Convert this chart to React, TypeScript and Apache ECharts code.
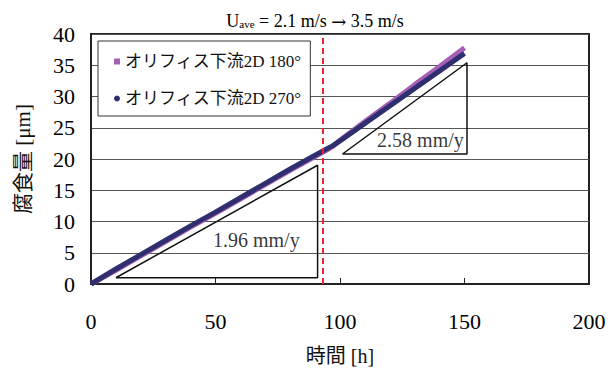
import React, { useEffect, useRef } from "react";
import * as echarts from "echarts";

const hours = [0, 10, 20, 30, 40, 50, 60, 70, 80, 90, 95, 97, 100, 110, 120, 130, 140, 150];
const series180 = [0, 2.2, 4.5, 6.8, 9.1, 11.3, 13.6, 15.9, 18.2, 20.4, 21.5, 22.0, 23.0, 26.0, 28.9, 31.9, 34.8, 37.8];
const series270 = [0, 2.4, 4.7, 7.0, 9.3, 11.5, 13.8, 16.1, 18.4, 20.6, 21.7, 22.1, 22.9, 25.7, 28.5, 31.3, 34.1, 36.9];
const seriesNames = ["オリフィス下流2D 180°", "オリフィス下流2D 270°"];
const triangle1 = [[10, 1], [91, 1], [91, 19], [10, 1]];
const triangle2 = [[101, 20.8], [151, 20.8], [151, 35.4], [101, 20.8]];
const rateLabels = [
  { name: "1.96 mm/y", pos: [66.4, 7.1] },
  { name: "2.58 mm/y", pos: [132.3, 23.0] },
];
const changeHour = 93;

const SERIF = "'Liberation Serif', 'Times New Roman', 'Noto Sans CJK JP', serif";

export default function App() {
  const ref = useRef<HTMLDivElement>(null);
  useEffect(() => {
    if (!ref.current) return;
    const chart = echarts.init(ref.current, null, { renderer: "svg" });
    const toPairs = (ys: number[]) => hours.map((h, i) => [h, ys[i]]);
    chart.setOption({
      animation: false,
      backgroundColor: "#fff",
      textStyle: { fontFamily: SERIF },
      title: {
        text: "{a|U}{b|ave}{a| = 2.1 m/s }{c|→}{a| 3.5 m/s}",
        left: 310,
        textAlign: "center",
        top: 6,
        textStyle: {
          fontWeight: "normal",
          rich: {
            a: { fontFamily: SERIF, fontSize: 18, fontWeight: "normal", color: "#000", verticalAlign: "bottom" },
            b: { fontFamily: SERIF, fontSize: 11, fontWeight: "normal", color: "#000", padding: [8, 0, 0, 0], verticalAlign: "bottom" },
            c: { fontFamily: "'DejaVu Serif', serif", fontSize: 18, fontWeight: "normal", color: "#000", verticalAlign: "bottom" },
          },
        },
      },
      legend: {
        left: 98,
        top: 41,
        orient: "vertical",
        backgroundColor: "#fff",
        borderColor: "#333",
        borderWidth: 1,
        borderRadius: 0,
        padding: [12, 9, 9, 16],
        itemGap: 20,
        itemWidth: 6,
        itemHeight: 6,
        textStyle: { fontFamily: SERIF, fontSize: 17, color: "#111" },
        data: [
          { name: seriesNames[0], icon: "rect" },
          { name: seriesNames[1], icon: "circle" },
        ],
      },
      grid: {
        left: 91,
        right: 26,
        top: 34,
        bottom: 88,
        show: true,
        borderColor: "#222",
        borderWidth: 2,
        backgroundColor: "transparent",
      },
      xAxis: {
        type: "value",
        min: 0,
        max: 200,
        interval: 50,
        name: "時間 [h]",
        nameLocation: "middle",
        nameGap: 62,
        nameTextStyle: { fontFamily: SERIF, fontSize: 20, color: "#111" },
        axisLine: { show: true, lineStyle: { color: "#222", width: 2 } },
        axisTick: { show: true, inside: true, length: 6, lineStyle: { color: "#222" } },
        axisLabel: { fontFamily: SERIF, fontSize: 22, color: "#000", margin: 26 },
        splitLine: { show: false },
      },
      yAxis: {
        type: "value",
        min: 0,
        max: 40,
        interval: 5,
        name: "腐食量 [μm]",
        nameLocation: "middle",
        nameGap: 58,
        nameRotate: 90,
        nameTextStyle: { fontFamily: SERIF, fontSize: 21, color: "#111" },
        axisLine: { show: true, lineStyle: { color: "#222", width: 2 } },
        axisTick: { show: false },
        axisLabel: { fontFamily: SERIF, fontSize: 22, color: "#000", margin: 16 },
        splitLine: { show: true, lineStyle: { color: "#555", width: 1 } },
      },
      series: [
        {
          name: seriesNames[0],
          type: "line",
          data: toPairs(series180),
          showSymbol: false,
          symbol: "rect",
          itemStyle: { color: "#A55FB5" },
          lineStyle: { color: "#A55FB5", width: 5 },
          z: 3,
        },
        {
          name: seriesNames[1],
          type: "line",
          data: toPairs(series270),
          showSymbol: false,
          symbol: "circle",
          itemStyle: { color: "#2F2F70" },
          lineStyle: { color: "#2F2F70", width: 5 },
          z: 4,
          markLine: {
            silent: true,
            symbol: "none",
            label: { show: false },
            lineStyle: { color: "#E8252A", type: [6, 4], width: 2 },
            data: [{ xAxis: changeHour }],
          },
        },
        {
          name: "tri1",
          type: "line",
          data: triangle1,
          showSymbol: false,
          lineStyle: { color: "#111", width: 1.5 },
          z: 2,
        },
        {
          name: "tri2",
          type: "line",
          data: triangle2,
          showSymbol: false,
          lineStyle: { color: "#111", width: 1.5 },
          z: 2,
        },
        {
          name: "rates",
          type: "scatter",
          symbolSize: 0,
          data: rateLabels.map((r) => ({ name: r.name, value: r.pos })),
          label: {
            show: true,
            position: "inside",
            formatter: (p: any) => p.name,
            fontFamily: SERIF,
            fontSize: 20,
            color: "#000",
          },
          z: 5,
        },
      ],
    });
    return () => chart.dispose();
  }, []);
  return (
    <div
      ref={ref}
      style={{ position: "fixed", left: 0, top: 0, width: 615, height: 372 }}
    />
  );
}
